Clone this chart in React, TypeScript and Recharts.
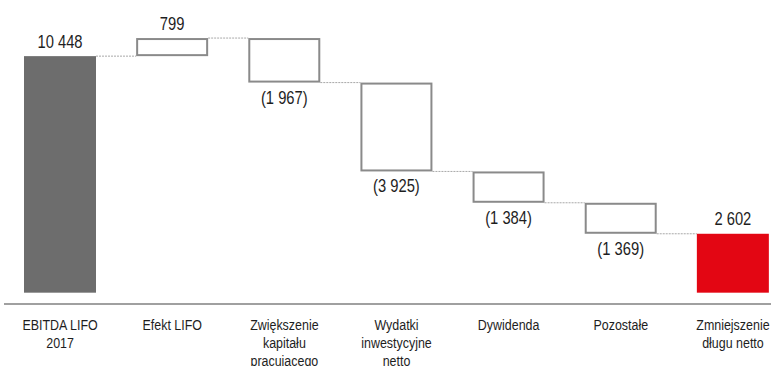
import React from "react";
import { BarChart, Bar, XAxis, YAxis } from "recharts";

const categories = [
  "EBITDA LIFO\n2017",
  "Efekt LIFO",
  "Zwiększenie\nkapitału\npracującego",
  "Wydatki\ninwestycyjne\nnetto",
  "Dywidenda",
  "Pozostałe",
  "Zmniejszenie\ndługu netto",
];
const values = [10448, 799, -1967, -3925, -1384, -1369, 2602];
const kinds = ["start", "delta", "delta", "delta", "delta", "delta", "end"];
const valueLabels = ["10 448", "799", "(1 967)", "(3 925)", "(1 384)", "(1 369)", "2 602"];

const FONT = "'Liberation Sans', Arial, sans-serif";
const NARROW = 0.82;
const GRAY = "#6d6d6d";
const RED = "#e30613";
const BOX = "#8a8a8a";
const CONNECT = "#a8a8a8";
const TEXT = "#1e1e1e";

let running = 0;
const data = categories.map((name, i) => {
  let range: [number, number];
  if (kinds[i] === "delta") {
    const next = running + values[i];
    range = [Math.min(running, next), Math.max(running, next)];
    running = next;
  } else {
    range = [0, values[i]];
    running = values[i];
  }
  return { name, range, value: values[i], kind: kinds[i], label: valueLabels[i] };
});

const edges: number[] = [];

const NarrowText = ({ x, y, size, children }: any) => (
  <text
    transform={`translate(${x},${y}) scale(${NARROW},1)`}
    x={0}
    y={0}
    textAnchor="middle"
    fontFamily={FONT}
    fontSize={size}
    fill={TEXT}
  >
    {children}
  </text>
);

const WaterfallShape = (props: any) => {
  const { x, y, width, height, index, payload } = props;
  const top = Math.min(y, y + height);
  const h = Math.abs(height);
  edges[index] = x + width;
  const kind = payload.kind;
  const value = payload.value;
  let level = top;
  if (kind === "delta" && value > 0) level = top + h;
  const fill = kind === "start" ? GRAY : kind === "end" ? RED : "none";
  const positive = value > 0;
  const labelY = positive ? top - 8.5 : top + h + 21;
  return (
    <g>
      {index > 0 && edges[index - 1] !== undefined && (
        <line
          x1={edges[index - 1]}
          x2={x}
          y1={level}
          y2={level}
          stroke={CONNECT}
          strokeWidth={1}
          strokeDasharray="2 1"
        />
      )}
      {kind === "delta" ? (
        <rect x={x + 1} y={top + 1} width={width - 2} height={h - 2} fill="#ffffff" stroke={BOX} strokeWidth={2} />
      ) : (
        <rect x={x} y={top} width={width} height={h} fill={fill} />
      )}
      <NarrowText x={x + width / 2} y={labelY} size={18}>
        {payload.label}
      </NarrowText>
    </g>
  );
};

const CategoryTick = (props: any) => {
  const { x, y, payload } = props;
  const lines = String(categories[payload.index] ?? payload.value).split("\n");
  return (
    <g>
      {lines.map((l, i) => (
        <NarrowText key={i} x={x} y={y + 17.5 + i * 18.3} size={15.2}>
          {l}
        </NarrowText>
      ))}
    </g>
  );
};

export default function App() {
  return (
    <div style={{ position: "absolute", left: 0, top: 0, width: 771, height: 366, overflow: "hidden", background: "#fff" }}>
      <BarChart
        width={790}
        height={366}
        data={data}
        margin={{ top: 21, right: 1, bottom: 0, left: 4 }}
        barSize={72}
      >
        <XAxis
          dataKey="name"
          interval={0}
          tickLine={false}
          axisLine={{ stroke: "#a0a0a0", strokeWidth: 2 }}
          tick={<CategoryTick />}
          height={62}
        />
        <YAxis hide domain={[-500, 12000]} type="number" />
        <Bar dataKey="range" isAnimationActive={false} shape={<WaterfallShape />} />
      </BarChart>
    </div>
  );
}
